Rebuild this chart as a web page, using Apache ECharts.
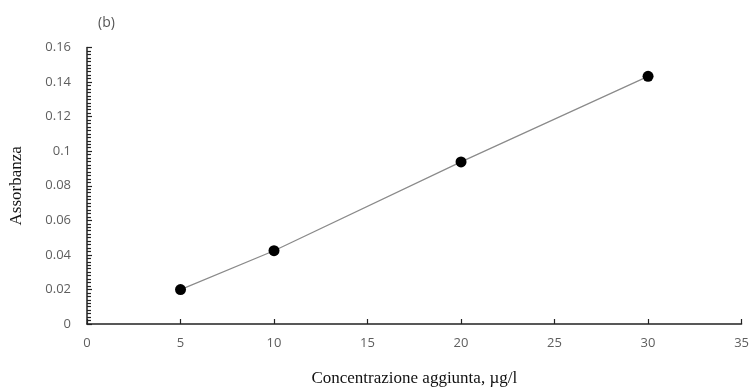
<!DOCTYPE html>
<html>
<head>
<meta charset="utf-8">
<script src="https://cdn.jsdelivr.net/npm/echarts@6/dist/echarts.min.js"></script>
<style>
  html, body { margin: 0; padding: 0; background: #fff; }
  #chart { width: 752px; height: 392px; }
</style>
</head>
<body>
<div id="chart"></div>
<script>
// concentrazione aggiunta (µg/l) e assorbanza letta
const concentrazioni = [5, 10, 20, 30];
const assorbanze = [0.0199, 0.0424, 0.0938, 0.1433];
const yTicks = [0, 0.02, 0.04, 0.06, 0.08, 0.1, 0.12, 0.14, 0.16];
const xTicks = [0, 5, 10, 15, 20, 25, 30, 35];

const punti = concentrazioni.map((c, i) => [c, assorbanze[i]]);

const myChart = echarts.init(document.getElementById('chart'));
myChart.setOption({
  animation: false,
  title: {
    text: '(b)',
    left: 93,
    top: 11,
    textStyle: { fontFamily: 'Open Sans', fontSize: 14, fontWeight: 'normal', color: '#555' }
  },
  grid: { left: 86, right: 8, top: 47.5, bottom: 64.5 },
  xAxis: {
    type: 'value',
    min: xTicks[0],
    max: xTicks[xTicks.length - 1],
    interval: 5,
    name: 'Concentrazione aggiunta, µg/l',
    nameLocation: 'middle',
    nameGap: 46,
    nameTextStyle: { fontFamily: 'Liberation Serif', fontSize: 17, color: '#111' },
    axisLine: { show: true, onZero: false, lineStyle: { color: '#222', width: 1.5 } },
    axisTick: { show: true, inside: true, length: 5, lineStyle: { color: '#222', width: 1.2 } },
    axisLabel: { margin: 13, fontFamily: 'Open Sans', fontSize: 13, color: '#5e5e5e' },
    splitLine: { show: false }
  },
  yAxis: {
    type: 'value',
    min: yTicks[0],
    max: yTicks[yTicks.length - 1],
    interval: 0.02,
    name: 'Assorbanza',
    nameLocation: 'middle',
    nameGap: 62,
    nameTextStyle: { fontFamily: 'Liberation Serif', fontSize: 17, color: '#111' },
    axisLine: { show: true, lineStyle: { color: '#222', width: 1.5 } },
    axisTick: { show: true, inside: true, length: 5, lineStyle: { color: '#222', width: 1.2 } },
    minorTick: { show: true, splitNumber: 10, length: 4, lineStyle: { color: '#222', width: 1.2 } },
    axisLabel: { margin: 16, fontFamily: 'Open Sans', fontSize: 13, color: '#5e5e5e',
      formatter: v => String(parseFloat(v.toFixed(2))) },
    splitLine: { show: false }
  },
  series: [{
    type: 'line',
    data: punti,
    symbol: 'circle',
    symbolSize: 11,
    itemStyle: { color: '#000' },
    lineStyle: { color: '#8a8a8a', width: 1.2 }
  }]
});
</script>
</body>
</html>
